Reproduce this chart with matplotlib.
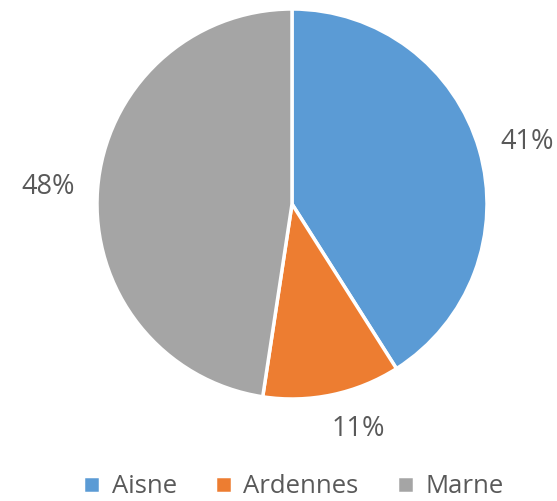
import matplotlib
matplotlib.use("Agg")
import matplotlib.pyplot as plt

# data
departements = ["Aisne", "Ardennes", "Marne"]
parts = [41.0, 11.4, 47.6]
couleurs = ["#5B9BD5", "#ED7D31", "#A5A5A5"]

# label placement (Excel "best fit"), in pie-radius units
label_pos = [(1.205, 0.320), (0.338, -1.155), (-1.249, 0.085)]

plt.rcParams['font.family'] = ['Open Sans', 'DejaVu Sans']
gris = "#595959"

fig = plt.figure(figsize=(5.57, 5.01), dpi=100)
ax = fig.add_axes([97 / 557, (501 - 204 - 195) / 501, 390 / 557, 390 / 501])

wedges, texts, autotexts = ax.pie(
    parts, colors=couleurs, startangle=90, counterclock=False,
    autopct="%.0f%%", pctdistance=1.24,
    wedgeprops=dict(edgecolor="white", linewidth=2.5),
    textprops=dict(color=gris, fontsize=19.5),
)
for t, (x, y) in zip(autotexts, label_pos):
    t.set_position((x, y))
    t.set_ha("center")
    t.set_va("center")

ax.set_xlim(-1, 1)
ax.set_ylim(-1, 1)
ax.set_aspect("equal")

fig.legend(wedges, departements, loc="center", bbox_to_anchor=(0.527, 0.028),
           ncol=3, frameon=False, fontsize=18.5, labelcolor=gris,
           handlelength=0.65, handleheight=0.65, handletextpad=0.45,
           columnspacing=1.5, borderpad=0.1)

fig.savefig("out.png", dpi=100)
